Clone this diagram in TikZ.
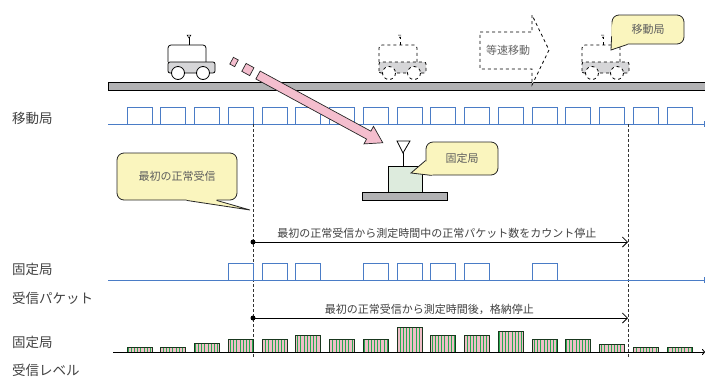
\documentclass[tikz,border=0pt]{standalone}
\usepackage{fontspec}
\setmainfont{Noto Sans CJK JP}
\usepackage{tikz}
\usetikzlibrary{arrows.meta,patterns.meta}
\definecolor{ink}{RGB}{64,64,64}
\definecolor{pulse}{RGB}{74,124,198}
\definecolor{rail}{RGB}{178,178,180}
\definecolor{body}{RGB}{214,214,216}
\definecolor{balloon}{RGB}{250,245,190}
\definecolor{beam}{RGB}{244,190,206}
\definecolor{station}{RGB}{221,235,221}
\definecolor{stripe}{RGB}{40,170,80}
\definecolor{levelpink}{RGB}{240,190,200}
\definecolor{barline}{RGB}{25,55,30}

\begin{document}
\begin{tikzpicture}[x=1pt, y=-1pt,
    lbl/.style={anchor=west, inner sep=0pt, text=ink, font=\fontsize{13.5}{15}\selectfont},
    note/.style={draw=black!85, line width=0.8pt, fill=balloon, rounded corners=7pt,
                 text=ink!85, font=\fontsize{11}{12}\selectfont, inner sep=0pt},
    sig/.style={draw=pulse, line width=0.9pt},
    lvl/.style={draw=barline, line width=1pt,
                pattern={Lines[angle=90,distance=3.2pt,line width=1pt]}, pattern color=stripe},
    span/.style={line width=0.8pt, -{Straight Barb[length=5pt,width=10pt]}},
    guide/.style={densely dashed, line width=0.7pt, black!80},
    car/.pic={
        \draw[pic actions, fill=white, rounded corners=3pt] (0,-11) -- (0,-28) -- (38,-28) -- (38,-11);
        \draw[pic actions] (21,-28) -- (21,-36);
        \draw[pic actions, line width=0.5pt] (19,-38) -- (23,-38) -- (21,-35) -- cycle;
        \draw[pic actions, fill=body, rounded corners=2pt] (0,0) rectangle (47,-11);
        \draw[pic actions, fill=white] (10,0) circle (6.5) (35,0) circle (6.5);
    },
]
\useasboundingbox (0,0) rectangle (705,376);

% track and the moving station
\draw[fill=rail, line width=0.8pt] (108,82) rectangle (706,90);
\pic[line width=0.8pt] at (168,73) {car};
\pic[line width=0.8pt, dashed] at (379,73) {car};
\pic[line width=0.8pt, dashed] at (582,73) {car};

% constant speed block arrow
\draw[dashed, line width=0.8pt, fill=white]
    (480,32) -- (532,32) -- (532,15) -- (549,50) -- (532,85) -- (532,69) -- (480,69) -- cycle;
\node[text=ink!80, font=\fontsize{11}{12}\selectfont] (move) at (508,50) {等速移動};

% balloon for the moving station
\node[note, minimum width=72pt, minimum height=29pt] (mob) at (648,29.5) {移動局};
\coordinate (mobtip) at (611,50);
\fill[balloon] ([yshift=-7pt]mob.north west) -- (mobtip) -- ([xshift=16pt]mob.south west)
    -- ([xshift=16pt,yshift=3pt]mob.south west) -- ([xshift=6pt,yshift=6pt]mob.south west) -- cycle;
\draw[line width=0.8pt, black!85] ([yshift=8pt]mob.south west) -- (mobtip) -- ([xshift=16pt]mob.south west);

% transmitted packets
\node[lbl] (txlbl) at (12,118) {移動局};
\draw[sig, -{Bar[width=6pt]}] (108,124) -- (705,124);
\foreach \k in {0,...,16}
    \draw[sig] ({127+33.75*\k},124) rectangle ++(25,-17);

% radio beam towards the fixed station
\begin{scope}[shift={(258,75)}, rotate=-28.5, line width=0.7pt]
    \draw[draw=black!85, fill=beam]
        (0,-4.5) -- (126,-4.5) -- (126,-10) -- (142,0) -- (126,10) -- (126,4.5) -- (0,4.5) -- cycle;
    \draw[draw=black!85, fill=beam] (-16,-4.5) rectangle (-7,4.5);
    \draw[draw=black!85, fill=beam] (-30,-3.8) rectangle (-24.5,3.8);
\end{scope}

% fixed station
\draw[fill=rail, line width=0.8pt] (362,192) rectangle (447,200);
\draw[fill=station, line width=0.8pt] (388,166) rectangle (422,192);
\draw[line width=0.8pt] (403,166) -- (403,153);
\draw[line width=0.8pt] (397,141) -- (410,141) -- (403,153) -- cycle;

\node[note, minimum width=72pt, minimum height=33pt] (fix) at (462,158.5) {固定局};
\coordinate (fixtip) at (411,173);
\fill[balloon] ([yshift=-2pt]fix.west) -- (fixtip) -- ([xshift=6pt]fix.south west)
    -- ([xshift=10pt,yshift=4pt]fix.south west) -- cycle;
\draw[line width=0.8pt, black!85] ([yshift=-2pt]fix.west) -- (fixtip) -- ([xshift=6pt]fix.south west);

% balloon for the first good reception
\node[note, minimum width=120pt, minimum height=47pt] (first) at (177,176.5) {最初の正常受信};
\coordinate (firsttip) at (250,210);
\fill[balloon] ([xshift=70pt]first.south west) -- (firsttip) -- ([xshift=100pt]first.south west)
    -- ([xshift=100pt,yshift=2pt]first.south west) -- ([xshift=70pt,yshift=2pt]first.south west) -- cycle;
\draw[line width=0.8pt, black!85] ([xshift=70pt]first.south west) -- (firsttip) -- ([xshift=100pt]first.south west);

% start and stop of the measurement
\coordinate (t0top) at (253,124);
\coordinate (t0bot) at (253,357);
\coordinate (t1top) at (628,124);
\coordinate (t1bot) at (628,357);
\draw[guide] (t0top) -- (t0bot);
\draw[guide] (t1top) -- (t1bot);

\coordinate (cnt0) at (253,242);
\coordinate (cnt1) at (628,242);
\fill (cnt0) circle (2.5);
\draw[span] (cnt0) -- (cnt1)
    node[pos=0.49, above=0pt, text=ink, font=\fontsize{11}{12}\selectfont] (cntlbl)
    {最初の正常受信から測定時間中の正常パケット数をカウント停止};

\coordinate (sto0) at (253,318);
\coordinate (sto1) at (628,318);
\fill (sto0) circle (2.5);
\draw[span] (sto0) -- (sto1)
    node[pos=0.47, above=0pt, text=ink, font=\fontsize{11}{12}\selectfont] (stolbl)
    {最初の正常受信から測定時間後，格納停止};

% received packets
\node[lbl] (rxlbl) at (12,269) {固定局};
\node[lbl] (rxlbl2) at (12,298) {受信パケット};
\draw[sig, -{Bar[width=6pt]}] (108,280) -- (705,280);
\foreach \k in {3,4,5,7,8,9,10,12}
    \draw[sig] ({127+33.75*\k},280) rectangle ++(25,-17);

% received level
\node[lbl] (lvlbl) at (12,342) {固定局};
\node[lbl] (lvlbl2) at (12,370) {受信レベル};
\foreach \k/\h in {0/5,1/5,2/9,3/13,4/13,5/17,6/13,7/13,8/25,9/17,10/17,11/21,12/13,13/13,14/8,15/4.5,16/4.5} {
    \fill[levelpink] ({127+33.75*\k},352) rectangle ++(25,-\h);
    \draw[lvl] ({127+33.75*\k},352) rectangle ++(25,-\h);
}
\draw[line width=0.9pt, -{To[length=3pt,width=6pt]}] (113,352) -- (705,352);
\end{tikzpicture}
\end{document}
